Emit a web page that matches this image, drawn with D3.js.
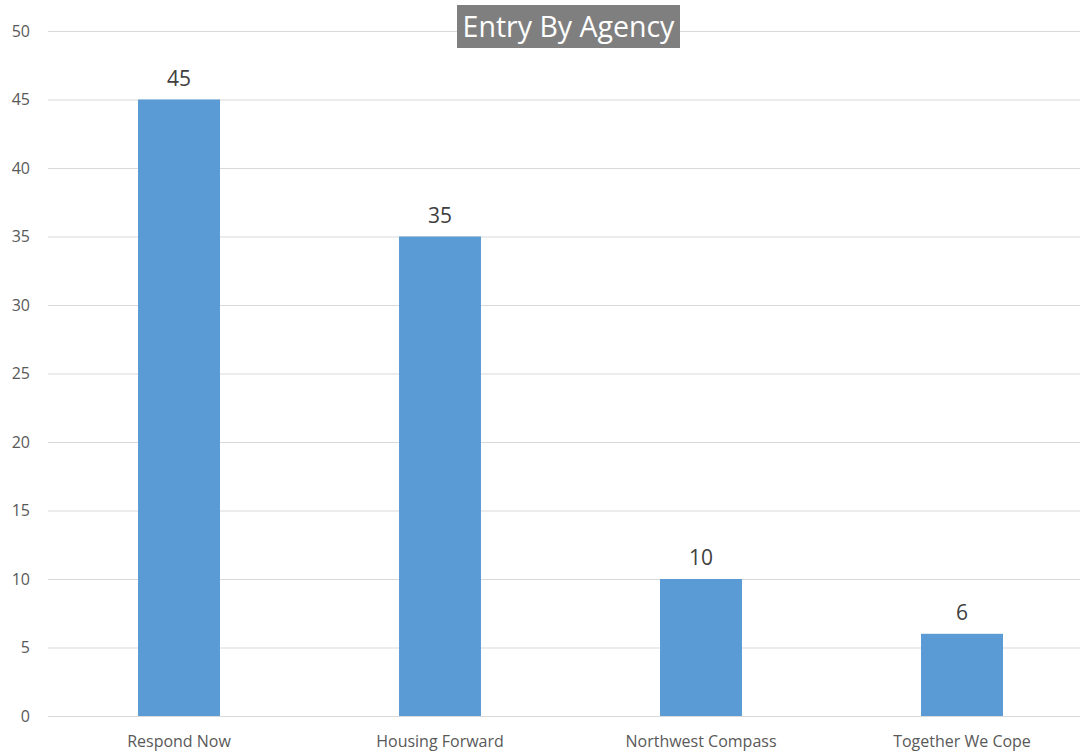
<!DOCTYPE html>
<html>
<head>
<meta charset="utf-8">
<script src="https://cdn.jsdelivr.net/npm/d3@7"></script>
<style>
  body { margin: 0; background: #fff; }
  text { font-family: "Open Sans", "Noto Sans", sans-serif; }
</style>
</head>
<body>
<div id="chart"></div>
<script>
var agencies = ["Respond Now", "Housing Forward", "Northwest Compass", "Together We Cope"];
var entries = [45, 35, 10, 6];
var yTicks = [0, 5, 10, 15, 20, 25, 30, 35, 40, 45, 50];

var width = 1083, height = 753;
var margin = {top: 31, right: 3, bottom: 37, left: 48};
var plotW = width - margin.left - margin.right,
    plotH = height - margin.top - margin.bottom;

var svg = d3.select("#chart").append("svg")
    .attr("width", width)
    .attr("height", height);

var x = d3.scaleBand()
    .domain(agencies)
    .range([0.5, 1044.5]);

var y = d3.scaleLinear()
    .domain([0, 50])
    .range([plotH, 0]);

var g = svg.append("g")
    .attr("transform", "translate(" + margin.left + "," + margin.top + ")");

// gridlines
var yAxis = d3.axisLeft(y)
    .tickValues(yTicks)
    .tickSize(-plotW)
    .tickPadding(16);

g.append("g")
    .attr("class", "y axis")
    .call(yAxis)
    .call(function(s) {
      s.select(".domain").remove();
      s.selectAll(".tick line").attr("stroke", "#d9d9d9");
      s.selectAll(".tick text")
        .attr("fill", "#595959")
        .style("font-size", "16px")
        .attr("x", -18);
    });

var barW = x.bandwidth() * 0.314;

g.selectAll("rect.bar")
    .data(entries)
    .enter().append("rect")
    .attr("class", "bar")
    .attr("x", function(d, i) { return x(agencies[i]) + x.bandwidth() / 2 - barW / 2; })
    .attr("y", function(d) { return y(d); })
    .attr("width", barW)
    .attr("height", function(d) { return plotH - y(d); })
    .attr("fill", "#5b9bd5");

g.selectAll("text.val")
    .data(entries)
    .enter().append("text")
    .attr("class", "val")
    .attr("x", function(d, i) { return x(agencies[i]) + x.bandwidth() / 2; })
    .attr("y", function(d) { return y(d) - 14; })
    .attr("text-anchor", "middle")
    .attr("fill", "#404040")
    .style("font-size", "21px")
    .text(function(d) { return d; });

// x labels
var xAxis = d3.axisBottom(x).tickSize(0).tickPadding(20);
g.append("g")
    .attr("transform", "translate(0," + plotH + ")")
    .call(xAxis)
    .call(function(s) {
      s.select(".domain").remove();
      s.selectAll(".tick text")
        .attr("fill", "#595959")
        .style("font-size", "16px");
    });

// title
var title = svg.append("g");
title.append("rect")
    .attr("x", 457).attr("y", 5)
    .attr("width", 223).attr("height", 43)
    .attr("fill", "#7f7f7f");
title.append("text")
    .attr("x", 568.5).attr("y", 37)
    .attr("text-anchor", "middle")
    .attr("fill", "#fff")
    .style("font-size", "28.5px")
    .text("Entry By Agency");
</script>
</body>
</html>
